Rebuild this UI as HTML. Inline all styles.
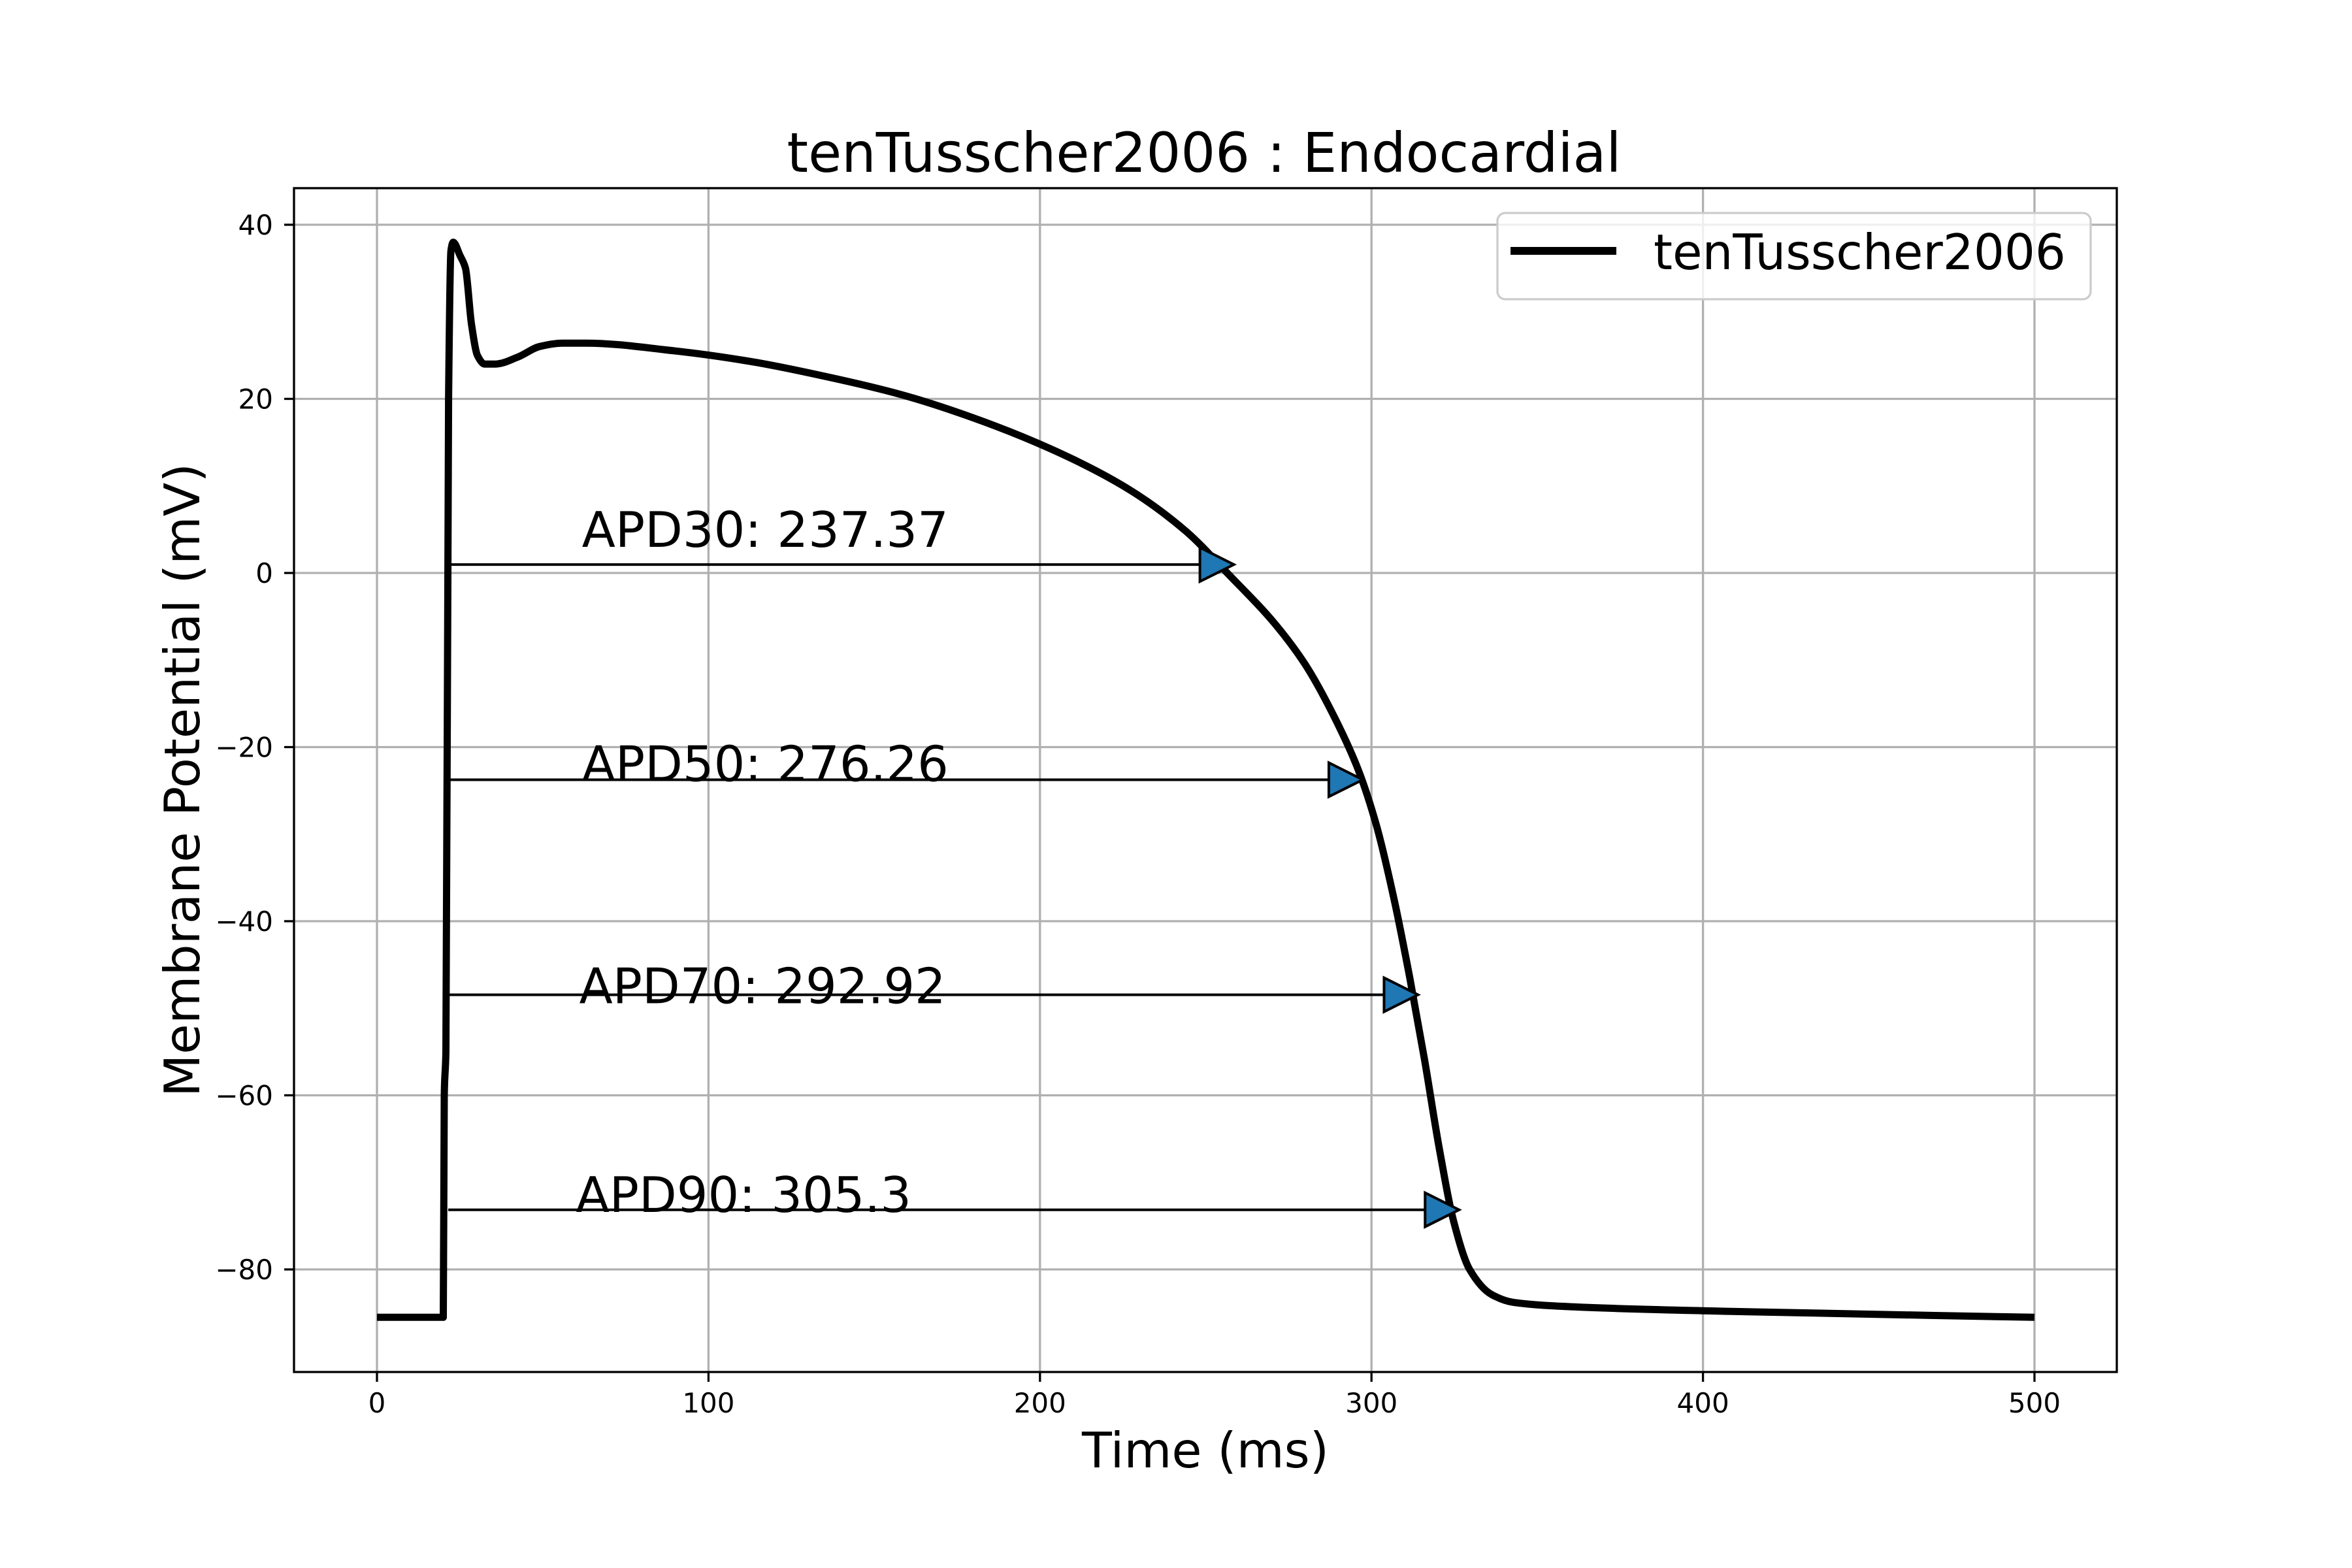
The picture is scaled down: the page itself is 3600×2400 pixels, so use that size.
<!DOCTYPE html>
<html><head><meta charset="utf-8"><style>
html,body{margin:0;padding:0;background:#fff;}
svg{display:block;}
text{font-family:"DejaVu Sans","Liberation Sans",sans-serif;fill:#000;}
</style></head><body>
<svg id="chart" width="3600" height="2400" viewBox="0 0 3600 2400" xmlns="http://www.w3.org/2000/svg">
<rect x="0" y="0" width="3600" height="2400" fill="#fff"/>
<g id="grid"></g>
<g id="ticks"></g>
<g id="apd"></g>
<path id="curve" fill="none" stroke="#000" stroke-width="11" stroke-linejoin="round"/>
<g id="markers"></g>
<rect x="450" y="288" width="2790" height="1812" fill="none" stroke="#000" stroke-width="3.3"/>
<text x="1843" y="263" font-size="84" text-anchor="middle" textLength="1277" lengthAdjust="spacingAndGlyphs">tenTusscher2006 : Endocardial</text>
<text x="1845" y="2246" font-size="75" text-anchor="middle" textLength="378" lengthAdjust="spacingAndGlyphs">Time (ms)</text>
<text x="0" y="0" font-size="75" text-anchor="middle" textLength="970" lengthAdjust="spacingAndGlyphs" transform="translate(305,1194) rotate(-90)">Membrane Potential (mV)</text>
<g>
<rect x="2292" y="326" width="908" height="132" rx="12" fill="#fff" fill-opacity="0.8" stroke="#ccc" stroke-width="3.3"/>
<line x1="2312" y1="384" x2="2474" y2="384" stroke="#000" stroke-width="12"/>
<text x="2531" y="412" font-size="75" textLength="631" lengthAdjust="spacingAndGlyphs">tenTusscher2006</text>
</g>
</svg>
<script>
const xTicks=[0,100,200,300,400,500];
const yTicks=[40,20,0,-20,-40,-60,-80];
const timeMs=[0,20,20.3,20.8,21.6,22.3,23,25,26.7,28.5,30.3,32.5,35.7,42.5,49,56,63,90,112.6,135,158,180,203,226,244,257,271,280,289,296,301.5,307,311.5,316,320.5,325,329.6,336.3,343,361,406,500];
const voltage=[-85.5,-85.5,-60,-55,20,37,38,36.5,35,28.6,25,24,24,24.8,26,26.4,26.4,25.5,24.3,22.6,20.5,17.8,14.3,9.8,4.8,-0.2,-5.9,-10.5,-16.7,-22.6,-29,-37.8,-46.4,-55.9,-66.2,-74.8,-80,-82.9,-83.8,-84.3,-84.8,-85.5];
const apdNames=["APD30","APD50","APD70","APD90"];
const apdValues=[237.37,276.26,292.92,305.3];
const apdLevels=[0.97,-23.75,-48.45,-73.15];
const apdStart=21.5;
const apdOffset=16;
const apdTextT=[61.8,61.8,61.0,60.0];
const apdTextV=[3,-23.9,-49.4,-73.4];

const NS="http://www.w3.org/2000/svg";
const X=t=>577+t*5.074;
const Y=v=>877-v*13.325;
function mk(tag,attrs,parent){const e=document.createElementNS(NS,tag);for(const k in attrs)e.setAttribute(k,attrs[k]);parent.appendChild(e);return e;}
const grid=document.getElementById('grid'),ticks=document.getElementById('ticks');
xTicks.forEach(t=>{
  const g=mk('line',{x1:X(t),x2:X(t),y1:288,y2:2100,stroke:'#b0b0b0','stroke-width':3.3},grid);
  
  
  const tk=mk('line',{x1:X(t),x2:X(t),y1:2100,y2:2115,stroke:'#000','stroke-width':3.3},ticks);
  
  
  const tx=mk('text',{x:X(t),y:2162,'font-size':42,'text-anchor':'middle'},ticks);
  
  
  tx.textContent=String(t);
});
yTicks.forEach(v=>{
  const g=mk('line',{x1:450,x2:3240,y1:Y(v),y2:Y(v),stroke:'#b0b0b0','stroke-width':3.3},grid);
  
  
  const tk=mk('line',{x1:435,x2:450,y1:Y(v),y2:Y(v),stroke:'#000','stroke-width':3.3},ticks);
  
  
  const tx=mk('text',{x:418,y:Y(v)+15,'font-size':42,'text-anchor':'end'},ticks);
  
  
  tx.textContent=(v<0?'\u2212':'')+Math.abs(v);
});
// monotone cubic interpolation (Fritsch-Carlson) for smooth curve through data points
function monotone(xs,ys){
  const n=xs.length,dx=[],m=[],s=[];
  for(let i=0;i<n-1;i++){dx[i]=xs[i+1]-xs[i];s[i]=(ys[i+1]-ys[i])/dx[i];}
  m[0]=s[0];m[n-1]=s[n-2];
  for(let i=1;i<n-1;i++){m[i]=(s[i-1]*s[i]<=0)?0:(3*(dx[i-1]+dx[i]))/((2*dx[i]+dx[i-1])/s[i-1]+(dx[i]+2*dx[i-1])/s[i]);}
  let d='M'+X(xs[0]).toFixed(1)+','+Y(ys[0]).toFixed(1);
  for(let i=0;i<n-1;i++){
    const h=dx[i];
    const c1x=xs[i]+h/3,c1y=ys[i]+m[i]*h/3,c2x=xs[i+1]-h/3,c2y=ys[i+1]-m[i+1]*h/3;
    d+='C'+X(c1x).toFixed(1)+','+Y(c1y).toFixed(1)+' '+X(c2x).toFixed(1)+','+Y(c2y).toFixed(1)+' '+X(xs[i+1]).toFixed(1)+','+Y(ys[i+1]).toFixed(1);
  }
  return d;
}
document.getElementById('curve').setAttribute('d',monotone(timeMs,voltage));
const apd=document.getElementById('apd'),mk2=document.getElementById('markers');
apdNames.forEach((n,i)=>{
  const te=apdOffset+apdValues[i];
  const y=Y(apdLevels[i]);
  const ln=mk('line',{x1:X(apdStart),x2:X(te),y1:y,y2:y,stroke:'#000','stroke-width':4},apd);
  
  
  const tx=mk('text',{x:X(apdTextT[i]),y:Y(apdTextV[i]),'font-size':75},apd);
  
  
  tx.textContent=n+': '+apdValues[i];
  const cx=X(te),s=26;
  const m=mk('polygon',{points:`${cx-s},${y-s} ${cx+s},${y} ${cx-s},${y+s}`,fill:'#1f77b4',stroke:'#000','stroke-width':4,'stroke-linejoin':'miter'},mk2);
  
  
});
</script>
</body></html>
